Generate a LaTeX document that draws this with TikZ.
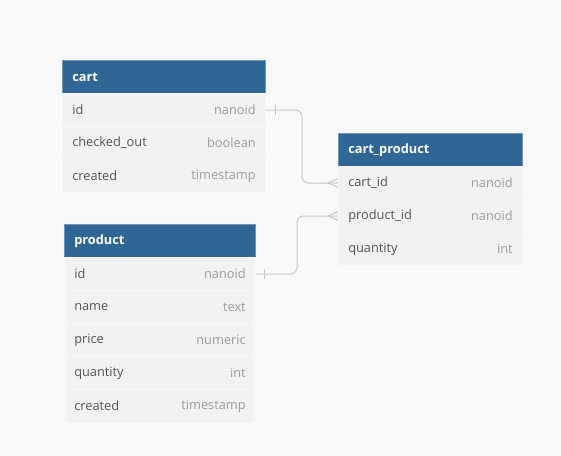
\documentclass[tikz,border=0pt]{standalone}
\usepackage{fontspec}
\setmainfont{Open Sans}
\usetikzlibrary{positioning}
\definecolor{pagebg}{HTML}{F9F9F9}
\definecolor{hdrblue}{HTML}{2F6696}
\definecolor{hdredge}{HTML}{6E95BA}
\definecolor{rowfill}{HTML}{F2F2F2}
\definecolor{rowline}{HTML}{F8F8F8}
\definecolor{fieldtxt}{HTML}{555555}
\definecolor{typetxt}{HTML}{9C9C9C}
\definecolor{linkgray}{HTML}{C8C8C8}

\begin{document}
\begin{tikzpicture}[x=0.75pt,y=-0.75pt,font=\fontsize{9.6}{11}\selectfont,
  tblhead/.style={fill=hdrblue,draw=hdredge,line width=0.5pt,anchor=north west,minimum height=24.75pt,inner sep=0pt},
  tblrow/.style={fill=rowfill,draw=rowline,line width=0.75pt,anchor=north west,minimum height=24.75pt,inner sep=0pt},
  tname/.style={anchor=west,text=white,font=\fontsize{9.6}{11}\selectfont\bfseries,inner sep=0pt},
  fname/.style={anchor=west,text=fieldtxt,inner sep=0pt},
  ftype/.style={anchor=east,text=typetxt,inner sep=0pt},
  conn/.style={draw=linkgray,line width=0.75pt,rounded corners=5pt}]
\useasboundingbox[fill=pagebg] (0,0) rectangle (561,455);

% cart
\node[tblhead,minimum width=152.25pt] (cart-h) at (62,60) {};
\node[tname] at ([xshift=7.5pt]cart-h.west) {cart};
\foreach \fn/\ft [count=\i] in {id/nanoid,checked\_out/boolean,created/timestamp}{
  \node[tblrow,minimum width=152.25pt] (cart-\i) at (62,{60+33*\i}) {};
  \node[fname] at ([xshift=7.5pt]cart-\i.west) {\fn};
  \node[ftype] at ([xshift=-7.5pt]cart-\i.east) {\ft};
}

% cart_product
\node[tblhead,minimum width=138pt] (cp-h) at (338,133) {};
\node[tname] at ([xshift=7.5pt]cp-h.west) {cart\_product};
\foreach \fn/\ft [count=\i] in {cart\_id/nanoid,product\_id/nanoid,quantity/int}{
  \node[tblrow,minimum width=138pt] (cp-\i) at (338,{133+33*\i}) {};
  \node[fname] at ([xshift=7.5pt]cp-\i.west) {\fn};
  \node[ftype] at ([xshift=-7.5pt]cp-\i.east) {\ft};
}

% product
\node[tblhead,minimum width=143.25pt] (prod-h) at (64,224) {};
\node[tname] at ([xshift=7.5pt]prod-h.west) {product};
\foreach \fn/\ft [count=\i] in {id/nanoid,name/text,price/numeric,quantity/int,created/timestamp}{
  \node[tblrow,minimum width=143.25pt] (prod-\i) at (64,{224+33*\i}) {};
  \node[fname] at ([xshift=7.5pt]prod-\i.west) {\fn};
  \node[ftype] at ([xshift=-7.5pt]prod-\i.east) {\ft};
}

% links
\draw[conn] (cart-1.east) -- ++(36,0) |- (cp-1.west);
\draw[conn] (prod-1.east) -- ++(41,0) |- (cp-2.west);
\draw[conn,rounded corners=0pt] ([xshift=7pt,yshift=-3.75pt]cart-1.east) -- ([xshift=7pt,yshift=3.75pt]cart-1.east);
\draw[conn,rounded corners=0pt] ([xshift=6pt,yshift=-3.75pt]prod-1.east) -- ([xshift=6pt,yshift=3.75pt]prod-1.east);
\draw[conn,rounded corners=0pt] ([yshift=3.25pt]cp-1.west) -- ([xshift=-7.5pt]cp-1.west) -- ([yshift=-3.25pt]cp-1.west);
\draw[conn,rounded corners=0pt] ([yshift=3.25pt]cp-2.west) -- ([xshift=-7.5pt]cp-2.west) -- ([yshift=-3.25pt]cp-2.west);
\end{tikzpicture}
\end{document}
